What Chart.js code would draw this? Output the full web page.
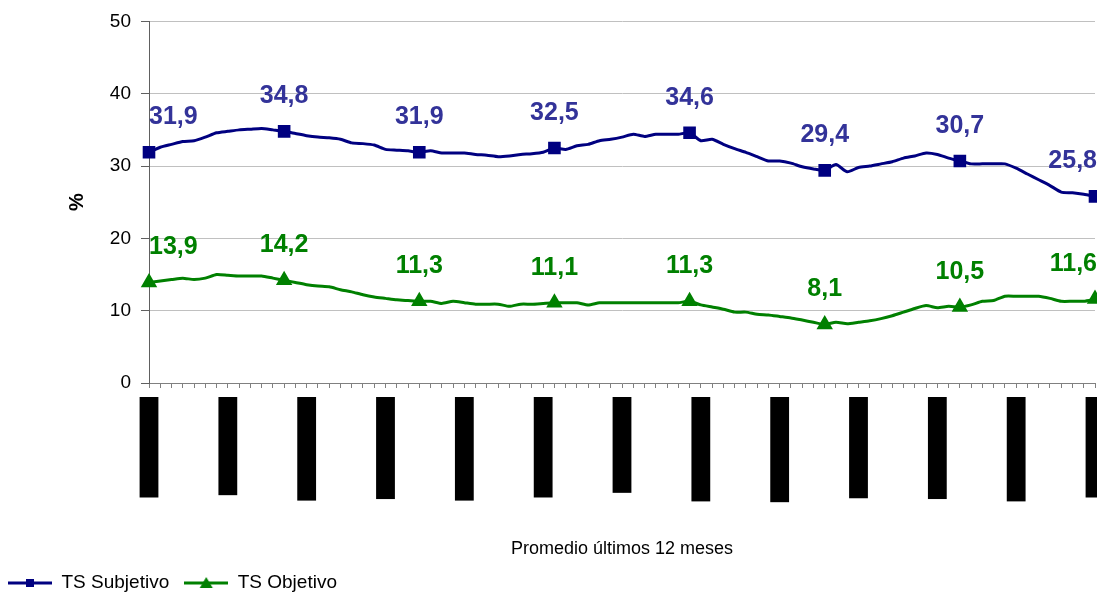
<!DOCTYPE html>
<html><head><meta charset="utf-8">
<script src="https://cdn.jsdelivr.net/npm/chart.js@4.4.1/dist/chart.umd.min.js"></script>
<style>html,body{margin:0;padding:0;background:#fff;}canvas{display:block;}</style>
</head><body>
<canvas id="c" width="1097" height="597"></canvas>
<script>
const categories = [
"Ene 00 - Dic 00","Feb 00 - Ene 01","Mar 00 - Feb 01","Abr 00 - Mar 01","May 00 - Abr 01","Jun 00 - May 01","Jul 00 - Jun 01","Ago 00 - Jul 01","Sep 00 - Ago 01","Oct 00 - Sep 01","Nov 00 - Oct 01","Dic 00 - Nov 01",
"Ene 01 - Dic 01","Feb 01 - Ene 02","Mar 01 - Feb 02","Abr 01 - Mar 02","May 01 - Abr 02","Jun 01 - May 02","Jul 01 - Jun 02","Ago 01 - Jul 02","Sep 01 - Ago 02","Oct 01 - Sep 02","Nov 01 - Oct 02","Dic 01 - Nov 02",
"Ene 02 - Dic 02","Feb 02 - Ene 03","Mar 02 - Feb 03","Abr 02 - Mar 03","May 02 - Abr 03","Jun 02 - May 03","Jul 02 - Jun 03","Ago 02 - Jul 03","Sep 02 - Ago 03","Oct 02 - Sep 03","Nov 02 - Oct 03","Dic 02 - Nov 03",
"Ene 03 - Dic 03","Feb 03 - Ene 04","Mar 03 - Feb 04","Abr 03 - Mar 04","May 03 - Abr 04","Jun 03 - May 04","Jul 03 - Jun 04","Ago 03 - Jul 04","Sep 03 - Ago 04","Oct 03 - Sep 04","Nov 03 - Oct 04","Dic 03 - Nov 04",
"Ene 04 - Dic 04","Feb 04 - Ene 05","Mar 04 - Feb 05","Abr 04 - Mar 05","May 04 - Abr 05","Jun 04 - May 05","Jul 04 - Jun 05","Ago 04 - Jul 05","Sep 04 - Ago 05","Oct 04 - Sep 05","Nov 04 - Oct 05","Dic 04 - Nov 05",
"Ene 05 - Dic 05","Feb 05 - Ene 06","Mar 05 - Feb 06","Abr 05 - Mar 06","May 05 - Abr 06","Jun 05 - May 06","Jul 05 - Jun 06","Ago 05 - Jul 06","Sep 05 - Ago 06","Oct 05 - Sep 06","Nov 05 - Oct 06","Dic 05 - Nov 06",
"Ene 06 - Dic 06","Feb 06 - Ene 07","Mar 06 - Feb 07","Abr 06 - Mar 07","May 06 - Abr 07","Jun 06 - May 07","Jul 06 - Jun 07","Ago 06 - Jul 07","Sep 06 - Ago 07","Oct 06 - Sep 07","Nov 06 - Oct 07","Dic 06 - Nov 07",
"Ene 07 - Dic 07"
];
const tsSubjetivo = [
31.9, 32.6, 33.0, 33.4, 33.5, 34.0, 34.6, 34.8, 35.0, 35.1, 35.2, 35.0,
34.8, 34.5, 34.2, 34.0, 33.9, 33.7, 33.2, 33.1, 32.9, 32.3, 32.2, 32.1,
31.9, 32.1, 31.8, 31.8, 31.8, 31.6, 31.5, 31.3, 31.4, 31.6, 31.7, 31.9,
32.5, 32.3, 32.8, 33.0, 33.5, 33.7, 34.0, 34.4, 34.1, 34.4, 34.4, 34.4,
34.6, 33.5, 33.7, 33.0, 32.4, 31.9, 31.3, 30.7, 30.7, 30.4, 29.9, 29.6,
29.4, 30.2, 29.2, 29.8, 30.0, 30.3, 30.6, 31.1, 31.4, 31.8, 31.6, 31.1,
30.7, 30.3, 30.3, 30.3, 30.3, 29.7, 28.9, 28.1, 27.3, 26.4, 26.3, 26.1,
25.8
];
const tsObjetivo = [
13.9, 14.1, 14.3, 14.5, 14.3, 14.5, 15.0, 14.9, 14.8, 14.8, 14.8, 14.5,
14.2, 13.9, 13.6, 13.4, 13.3, 12.9, 12.6, 12.2, 11.9, 11.7, 11.5, 11.4,
11.3, 11.3, 11.0, 11.3, 11.1, 10.9, 10.9, 10.9, 10.6, 10.9, 10.9, 11.0,
11.1, 11.1, 11.1, 10.8, 11.1, 11.1, 11.1, 11.1, 11.1, 11.1, 11.1, 11.1,
11.3, 10.8, 10.5, 10.2, 9.8, 9.8, 9.5, 9.4, 9.2, 9.0, 8.7, 8.4,
8.1, 8.4, 8.2, 8.4, 8.6, 8.9, 9.3, 9.8, 10.3, 10.7, 10.4, 10.6,
10.5, 10.8, 11.3, 11.4, 12.0, 12.0, 12.0, 12.0, 11.7, 11.3, 11.3, 11.3,
11.6
];
const seriesNames = ["TS Subjetivo", "TS Objetivo"];
const yMin = 0, yMax = 50, yStep = 10;
const labelEvery = 12;      // markers + value labels
const tickLabelEvery = 7;   // category labels

const FONT = '"Liberation Sans", Arial, Helvetica, sans-serif';
const BLUE = '#000080', GREEN = '#008000';

function legendIcon(color, shape) {
  const c = document.createElement('canvas');
  c.width = 44; c.height = 14;
  const g = c.getContext('2d');
  g.strokeStyle = color; g.lineWidth = 3;
  g.beginPath(); g.moveTo(0, 7); g.lineTo(44, 7); g.stroke();
  g.fillStyle = color;
  if (shape === 'rect') { g.fillRect(18, 3, 8, 8); }
  else { g.beginPath(); g.moveTo(22, 1); g.lineTo(28.5, 12); g.lineTo(15.5, 12); g.closePath(); g.fill(); }
  return c;
}
const icons = [legendIcon(BLUE, 'rect'), legendIcon(GREEN, 'tri')];

const dataLabels = {
  id: 'dataLabels',
  afterDatasetsDraw(chart) {
    const ctx = chart.ctx, area = chart.chartArea;
    chart.data.datasets.forEach((ds, di) => {
      const meta = chart.getDatasetMeta(di);
      ctx.save();
      ctx.font = 'bold 25px ' + FONT;
      ctx.fillStyle = ds.labelColor;
      ctx.textAlign = 'center';
      ctx.textBaseline = 'middle';
      meta.data.forEach((pt, i) => {
        if (i % labelEvery !== 0) return;
        const txt = ds.data[i].toFixed(1).replace('.', ',');
        const w = ctx.measureText(txt).width;
        const x = Math.min(Math.max(pt.x, area.left + w / 2), chart.width - w / 2);
        ctx.fillText(txt, x, pt.y - 35);
      });
      ctx.restore();
    });
  }
};

new Chart(document.getElementById('c'), {
  type: 'line',
  data: {
    labels: categories,
    datasets: [
      { label: seriesNames[0], data: tsSubjetivo, borderColor: BLUE, backgroundColor: BLUE, labelColor: '#333399',
        borderWidth: 3, tension: 0.2, pointStyle: 'rect',
        pointRadius: c => c.dataIndex % labelEvery === 0 ? 6.8 : 0, pointHoverRadius: 0, clip: false },
      { label: seriesNames[1], data: tsObjetivo, borderColor: GREEN, backgroundColor: GREEN, labelColor: '#008000',
        borderWidth: 3, tension: 0.2, pointStyle: 'triangle',
        pointRadius: c => c.dataIndex % labelEvery === 0 ? 6.5 : 0, pointHoverRadius: 0, clip: false }
    ]
  },
  options: {
    responsive: false, devicePixelRatio: 1, animation: false, events: [],
    layout: { autoPadding: false, padding: { left: -7, right: 2, top: 19, bottom: -5.5 } },
    scales: {
      x: {
        type: 'category', offset: false,
        grid: { drawOnChartArea: false, drawTicks: true, tickLength: 5, tickColor: '#808080' },
        border: { color: '#808080', width: 1 },
        ticks: {
          autoSkip: false, minRotation: 90, maxRotation: 90, padding: 11, labelOffset: -8.4,
          color: '#000', font: { family: FONT, size: 14 },
          showLabelBackdrop: true,
          backdropColor: c => (c.index % tickLabelEvery === 0 ? '#000' : 'rgba(0,0,0,0)'),
          backdropPadding: { top: 1, bottom: 1, left: 2, right: 2 },
          callback: (v, i) => (i % tickLabelEvery === 0 ? categories[i] : '')
        },
        title: { display: true, text: 'Promedio últimos 12 meses', color: '#000',
          font: { family: FONT, size: 18, lineHeight: 1 }, padding: { top: 0, bottom: 0 } },
        afterFit: s => { s.height = 175.5; s.paddingLeft = 0; s.paddingRight = 0; }
      },
      y: {
        min: yMin, max: yMax,
        ticks: { stepSize: yStep, padding: 10, color: '#000', font: { family: FONT, size: 19 } },
        grid: { color: '#c0c0c0', tickColor: '#606060', tickLength: 8 },
        border: { color: '#606060', width: 1 },
        title: { display: true, text: '%', color: '#000',
          font: { family: FONT, size: 20, weight: 'bold', lineHeight: 1 }, padding: { top: 74, bottom: 0 } },
        afterFit: s => { s.width = 156; }
      }
    },
    plugins: {
      tooltip: { enabled: false },
      legend: {
        position: 'bottom', align: 'start',
        labels: {
          usePointStyle: true, pointStyleWidth: 44, padding: 15,
          color: '#000', font: { family: FONT, size: 19 },
          generateLabels: chart => chart.data.datasets.map((ds, i) => ({
            text: ds.label, pointStyle: icons[i], fillStyle: ds.borderColor, strokeStyle: ds.borderColor,
            lineWidth: 0, hidden: false, datasetIndex: i, fontColor: '#000'
          }))
        }
      }
    }
  },
  plugins: [dataLabels]
});
</script>
</body></html>
